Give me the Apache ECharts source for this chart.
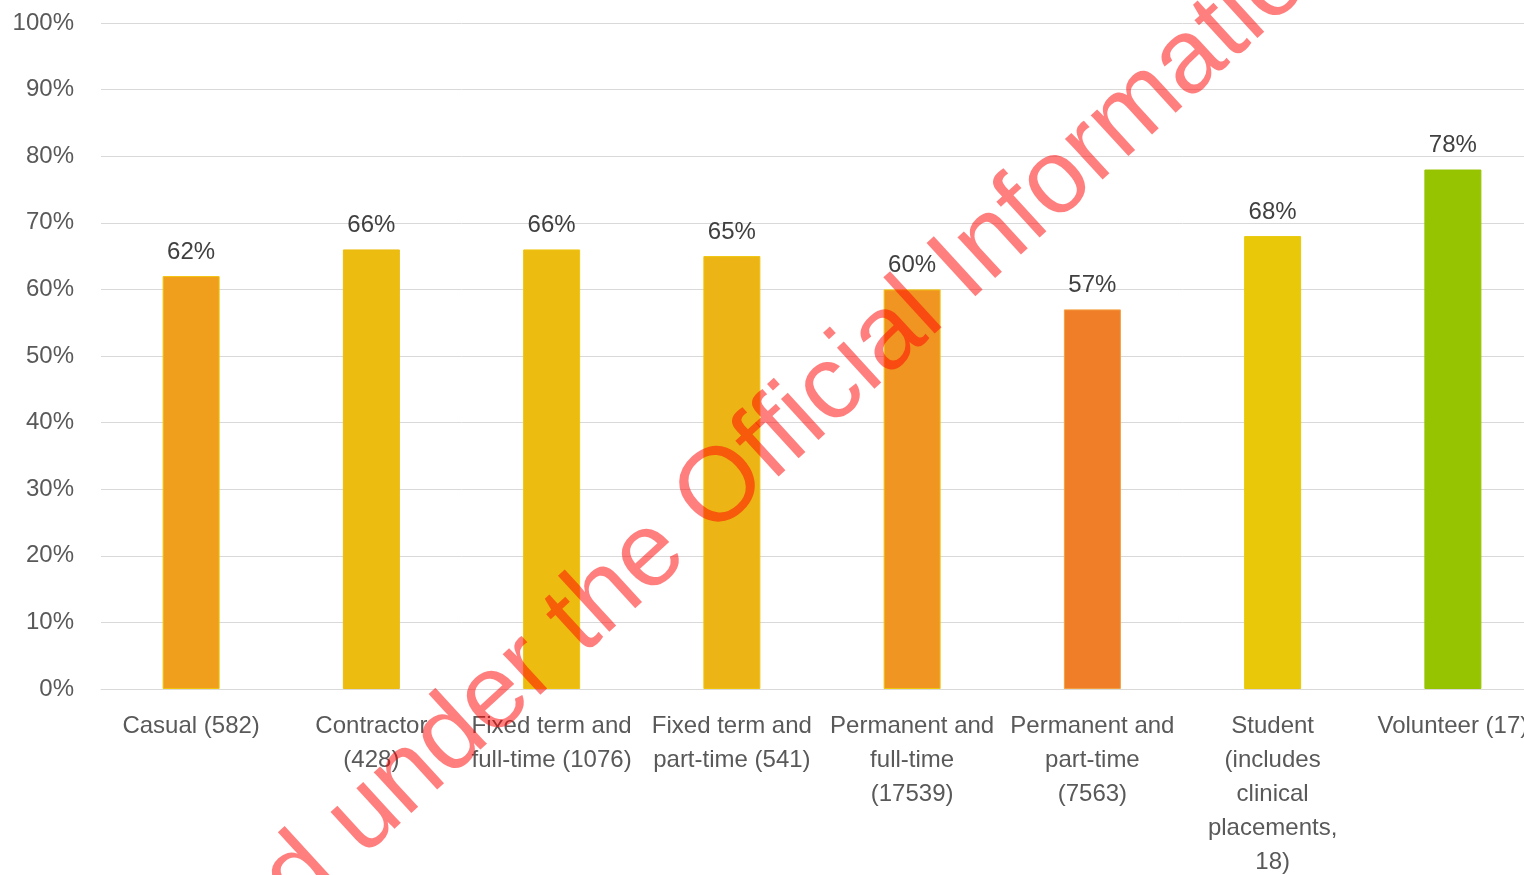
<!DOCTYPE html>
<html>
<head>
<meta charset="utf-8">
<script src="https://cdn.jsdelivr.net/npm/echarts@6/dist/echarts.min.js"></script>
<style>
html,body{margin:0;padding:0;background:#fff;overflow:hidden;width:1524px;height:875px;}
#chart{width:1543px;height:875px;}
</style>
</head>
<body>
<div id="chart"></div>
<script>
const categories = [
  "Casual (582)",
  "Contractor\n(428)",
  "Fixed term and\nfull-time (1076)",
  "Fixed term and\npart-time (541)",
  "Permanent and\nfull-time\n(17539)",
  "Permanent and\npart-time\n(7563)",
  "Student\n(includes\nclinical\nplacements,\n18)",
  "Volunteer (17)"
];
const values = [62, 66, 66, 65, 60, 57, 68, 78];
const barColors = ["#EF9F1C", "#ECBC10", "#ECBC10", "#ECB414", "#F09422", "#F07E28", "#E8C808", "#96C400"];
const borderColors = ["#F2C40C", "#ECBC10", "#F0C40C", "#F0C40C", "#F0C80C", "#F4A040", "#E8C808", "#96C400"];
const yTicks = [0, 10, 20, 30, 40, 50, 60, 70, 80, 90, 100];
const watermark = "Released under the Official Information Act";

const font = "'Liberation Sans', Arial, sans-serif";
const chart = echarts.init(document.getElementById('chart'), null, {renderer: 'canvas', width: 1543, height: 875});
chart.setOption({
  animation: false,
  backgroundColor: '#ffffff',
  grid: {left: 101, right: 0, top: 23, bottom: 186, containLabel: false, outerBoundsMode: 'none'},
  xAxis: {
    type: 'category',
    data: categories,
    axisLine: {show: true, lineStyle: {color: '#D9D9D9', width: 1}},
    axisTick: {show: false},
    axisLabel: {
      interval: 0,
      color: '#595959',
      fontFamily: font,
      fontSize: 24,
      lineHeight: 34,
      margin: 20,
      align: 'center'
    }
  },
  yAxis: {
    type: 'value',
    min: yTicks[0],
    max: yTicks[yTicks.length - 1],
    interval: 10,
    axisLine: {show: false},
    axisTick: {show: false},
    splitLine: {lineStyle: {color: '#D9D9D9', width: 1}},
    axisLabel: {
      color: '#595959',
      fontFamily: font,
      fontSize: 24,
      margin: 27,
      formatter: v => v + '%'
    }
  },
  series: [{
    type: 'bar',
    barWidth: 57,
    data: values.map((v, i) => ({
      value: v,
      itemStyle: {color: barColors[i], borderColor: borderColors[i], borderWidth: 1}
    })),
    label: {
      show: true,
      position: 'top',
      distance: 12,
      color: '#404040',
      fontFamily: font,
      fontSize: 24,
      formatter: p => p.value + '%'
    }
  }],
  graphic: [{
    type: 'text',
    x: 732,
    y: 480,
    rotation: 42.5 * Math.PI / 180,
    z: 100,
    silent: true,
    style: {
      text: watermark,
      fontFamily: "'Liberation Sans', Arial, sans-serif",
      fontSize: 105,
      fill: 'rgba(255,0,0,0.5)',
      align: 'center',
      verticalAlign: 'middle'
    }
  }]
});
</script>
</body>
</html>
